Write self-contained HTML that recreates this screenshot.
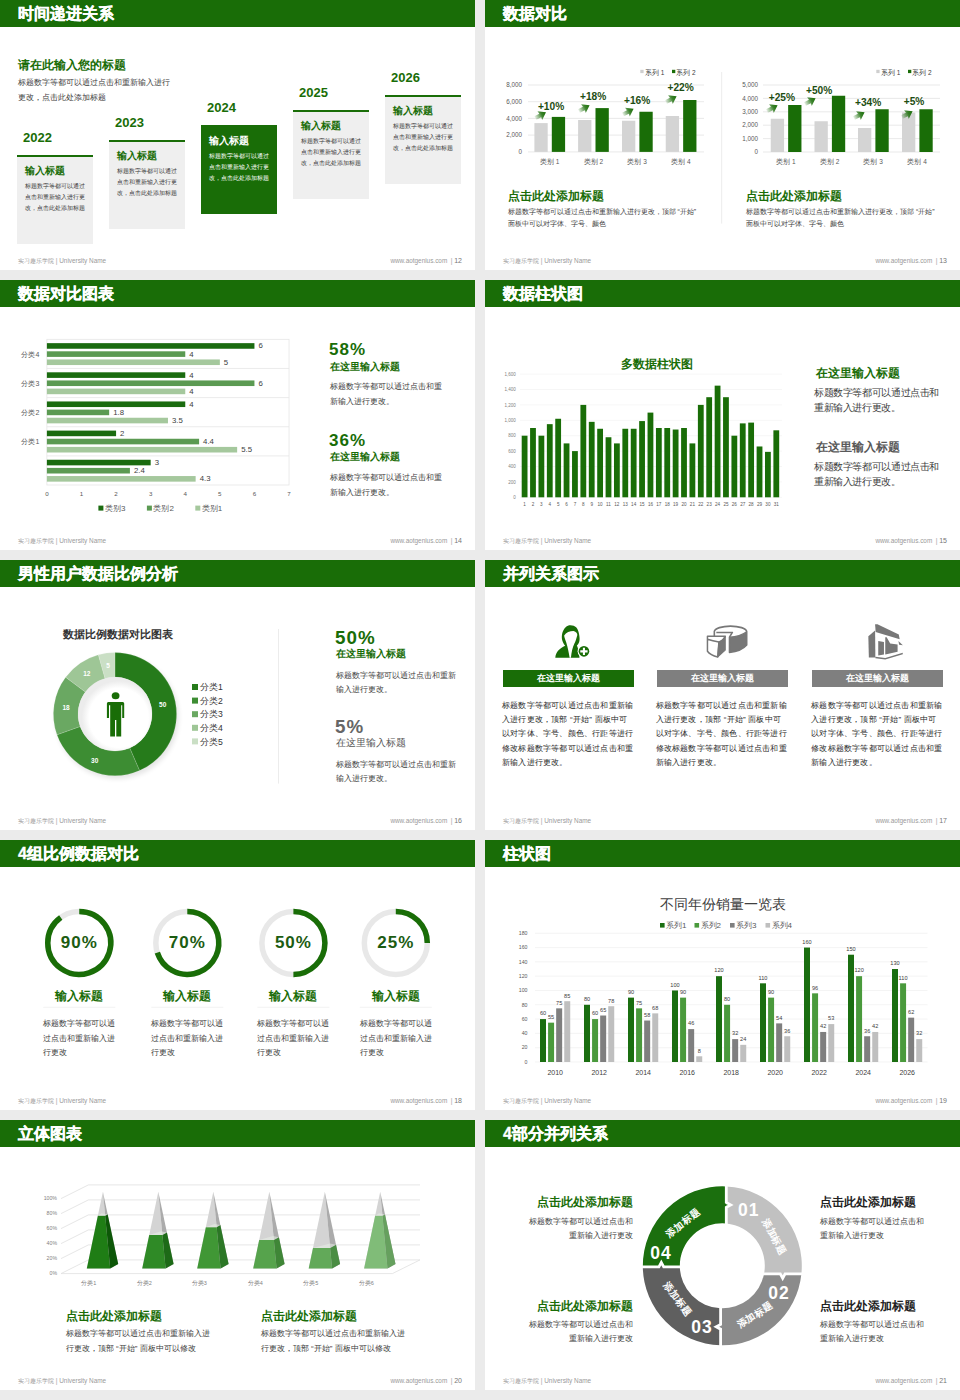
<!DOCTYPE html>
<html><head><meta charset="utf-8">
<style>
*{margin:0;padding:0;box-sizing:border-box}
html,body{width:960px;height:1400px;overflow:hidden;background:#ebebeb;font-family:"Liberation Sans",sans-serif}
.s{position:absolute;width:475px;height:270px;background:#fff;overflow:hidden}
.hd{position:absolute;left:0;top:0;width:475px;height:27px;background:#196d07}
.hd span{position:absolute;left:18px;top:4px;font-size:16px;line-height:20px;font-weight:bold;color:#fff;white-space:nowrap;-webkit-text-stroke:0.3px #fff}
.fl{position:absolute;left:18px;top:257px;font-size:6.4px;line-height:8px;color:#9a9a9a;white-space:nowrap}
.fr{position:absolute;right:13px;top:257px;font-size:6.4px;line-height:8px;color:#9a9a9a;white-space:nowrap}
.fr b{font-weight:normal;font-size:7px;color:#777}
.a{position:absolute;white-space:nowrap}
svg{position:absolute;left:0;top:0}
.pc{font-size:17px;line-height:20px;font-weight:bold;letter-spacing:1px}
.yr{font-size:13px;line-height:16px;font-weight:bold;color:#196d07}
.bt{font-size:10px;line-height:14px;font-weight:bold}
.bd{font-size:6px;line-height:11px}

</style></head><body>

<!-- S1 -->
<div class="s" style="left:0;top:0">
<div class="hd"><span>时间递进关系</span></div>
<div class="a" style="left:18px;top:57px;font-size:12px;line-height:16px;font-weight:bold;color:#196d07">请在此输入您的标题</div>
<div class="a" style="left:18px;top:75px;font-size:8px;line-height:15px;color:#3c3c3c">标题数字等都可以通过点击和重新输入进行<br>更改，点击此处添加标题</div>
<div class="a" style="left:17px;top:154.5px;width:76px;height:89.5px;background:#efefef;border-top:2px solid #196d07"></div><div class="a yr" style="left:23px;top:129.5px">2022</div><div class="a bt" style="left:25px;top:163.5px;color:#196d07">输入标题</div><div class="a bd" style="left:25px;top:180.8px;color:#3a3a3a">标题数字等都可以通过<br>点击和重新输入进行更<br>改，点击此处添加标题</div>
<div class="a" style="left:109px;top:139.5px;width:76px;height:89.5px;background:#efefef;border-top:2px solid #196d07"></div><div class="a yr" style="left:115px;top:114.5px">2023</div><div class="a bt" style="left:117px;top:148.5px;color:#196d07">输入标题</div><div class="a bd" style="left:117px;top:165.8px;color:#3a3a3a">标题数字等都可以通过<br>点击和重新输入进行更<br>改，点击此处添加标题</div>
<div class="a" style="left:201px;top:124.5px;width:76px;height:89.5px;background:#196d07"></div><div class="a yr" style="left:207px;top:99.5px">2024</div><div class="a bt" style="left:209px;top:133.5px;color:#fff">输入标题</div><div class="a bd" style="left:209px;top:150.8px;color:#fff">标题数字等都可以通过<br>点击和重新输入进行更<br>改，点击此处添加标题</div>
<div class="a" style="left:293px;top:109.5px;width:76px;height:89.5px;background:#efefef;border-top:2px solid #196d07"></div><div class="a yr" style="left:299px;top:84.5px">2025</div><div class="a bt" style="left:301px;top:118.5px;color:#196d07">输入标题</div><div class="a bd" style="left:301px;top:135.8px;color:#3a3a3a">标题数字等都可以通过<br>点击和重新输入进行更<br>改，点击此处添加标题</div>
<div class="a" style="left:385px;top:94.5px;width:76px;height:89.5px;background:#efefef;border-top:2px solid #196d07"></div><div class="a yr" style="left:391px;top:69.5px">2026</div><div class="a bt" style="left:393px;top:103.5px;color:#196d07">输入标题</div><div class="a bd" style="left:393px;top:120.8px;color:#3a3a3a">标题数字等都可以通过<br>点击和重新输入进行更<br>改，点击此处添加标题</div>
<div class="fl">实习趣乐学院 | University Name</div>
<div class="fr">www.aotgenius.com &nbsp;| <b>12</b></div>
</div>

<!-- S2 -->
<div class="s" style="left:485px;top:0">
<div class="hd"><span>数据对比</span></div>
<svg width="475" height="270" viewBox="0 0 475 270" font-family="Liberation Sans, sans-serif"><defs><linearGradient id="ag" x1="0" y1="0" x2="1" y2="0"><stop offset="0" stop-color="#196d07" stop-opacity="0.1"/><stop offset="0.6" stop-color="#196d07" stop-opacity="0.85"/><stop offset="1" stop-color="#196d07"/></linearGradient></defs><rect x="155.3" y="69.8" width="3.3" height="3.3" fill="#cfcfcf"/><text x="160.0" y="74.6" font-size="6.5" fill="#404040">系列 1</text><rect x="187.0" y="69.8" width="3.3" height="3.3" fill="#196d07"/><text x="191.3" y="74.6" font-size="6.5" fill="#404040">系列 2</text><rect x="391.3" y="69.8" width="3.3" height="3.3" fill="#cfcfcf"/><text x="396.0" y="74.6" font-size="6.5" fill="#404040">系列 1</text><rect x="423.0" y="69.8" width="3.3" height="3.3" fill="#196d07"/><text x="427.3" y="74.6" font-size="6.5" fill="#404040">系列 2</text><line x1="43" y1="85" x2="219" y2="85" stroke="#e3e3e3" stroke-width="0.8"/>
<text x="37" y="87.2" font-size="6.3" fill="#595959" text-anchor="end">8,000</text>
<line x1="43" y1="101.7" x2="219" y2="101.7" stroke="#e3e3e3" stroke-width="0.8"/>
<text x="37" y="103.9" font-size="6.3" fill="#595959" text-anchor="end">6,000</text>
<line x1="43" y1="118.4" x2="219" y2="118.4" stroke="#e3e3e3" stroke-width="0.8"/>
<text x="37" y="120.60000000000001" font-size="6.3" fill="#595959" text-anchor="end">4,000</text>
<line x1="43" y1="135.1" x2="219" y2="135.1" stroke="#e3e3e3" stroke-width="0.8"/>
<text x="37" y="137.29999999999998" font-size="6.3" fill="#595959" text-anchor="end">2,000</text>
<line x1="43" y1="151.9" x2="219" y2="151.9" stroke="#e3e3e3" stroke-width="0.8"/>
<text x="37" y="154.1" font-size="6.3" fill="#595959" text-anchor="end">0</text>
<rect x="49.4" y="123.1" width="13.3" height="28.80000000000001" fill="#d4d4d4"/>
<rect x="66.8" y="116.9" width="13.3" height="35.0" fill="#196d07"/>
<text x="64.6" y="164.1" font-size="6.5" fill="#595959" text-anchor="middle">类别 1</text>
<rect x="93.1" y="120" width="13.3" height="31.900000000000006" fill="#d4d4d4"/>
<rect x="110.5" y="108.1" width="13.3" height="43.80000000000001" fill="#196d07"/>
<text x="108.3" y="164.1" font-size="6.5" fill="#595959" text-anchor="middle">类别 2</text>
<rect x="137" y="120.75" width="13.3" height="31.150000000000006" fill="#d4d4d4"/>
<rect x="154.4" y="111.75" width="13.3" height="40.150000000000006" fill="#196d07"/>
<text x="152.2" y="164.1" font-size="6.5" fill="#595959" text-anchor="middle">类别 3</text>
<rect x="180.75" y="116" width="13.3" height="35.900000000000006" fill="#d4d4d4"/>
<rect x="198.15" y="100" width="13.3" height="51.900000000000006" fill="#196d07"/>
<text x="195.95" y="164.1" font-size="6.5" fill="#595959" text-anchor="middle">类别 4</text>
<text x="52.9" y="109.6" font-size="10.2" font-weight="bold" fill="#1d4d12">+10%</text>
<g transform="translate(50.4,118.0) rotate(-28)"><polygon points="0,-2 5.5,-2 5,-5 12,0 5,5 5.5,2 0,2" fill="url(#ag)"/></g>
<text x="95" y="100" font-size="10.2" font-weight="bold" fill="#1d4d12">+18%</text>
<g transform="translate(94,111.0) rotate(-28)"><polygon points="0,-2 5.5,-2 5,-5 12,0 5,5 5.5,2 0,2" fill="url(#ag)"/></g>
<text x="139" y="103.6" font-size="10.2" font-weight="bold" fill="#1d4d12">+16%</text>
<g transform="translate(138,114.5) rotate(-28)"><polygon points="0,-2 5.5,-2 5,-5 12,0 5,5 5.5,2 0,2" fill="url(#ag)"/></g>
<text x="182.5" y="91" font-size="10.2" font-weight="bold" fill="#1d4d12">+22%</text>
<g transform="translate(181,102.0) rotate(-28)"><polygon points="0,-2 5.5,-2 5,-5 12,0 5,5 5.5,2 0,2" fill="url(#ag)"/></g><line x1="278" y1="85" x2="455" y2="85" stroke="#e3e3e3" stroke-width="0.8"/>
<text x="273" y="87.2" font-size="6.3" fill="#595959" text-anchor="end">5,000</text>
<line x1="278" y1="98.4" x2="455" y2="98.4" stroke="#e3e3e3" stroke-width="0.8"/>
<text x="273" y="100.60000000000001" font-size="6.3" fill="#595959" text-anchor="end">4,000</text>
<line x1="278" y1="111.8" x2="455" y2="111.8" stroke="#e3e3e3" stroke-width="0.8"/>
<text x="273" y="114.0" font-size="6.3" fill="#595959" text-anchor="end">3,000</text>
<line x1="278" y1="125.2" x2="455" y2="125.2" stroke="#e3e3e3" stroke-width="0.8"/>
<text x="273" y="127.4" font-size="6.3" fill="#595959" text-anchor="end">2,000</text>
<line x1="278" y1="138.6" x2="455" y2="138.6" stroke="#e3e3e3" stroke-width="0.8"/>
<text x="273" y="140.79999999999998" font-size="6.3" fill="#595959" text-anchor="end">1,000</text>
<line x1="278" y1="152" x2="455" y2="152" stroke="#e3e3e3" stroke-width="0.8"/>
<text x="273" y="154.2" font-size="6.3" fill="#595959" text-anchor="end">0</text>
<rect x="285.75" y="118.75" width="13.3" height="33.25" fill="#d4d4d4"/>
<rect x="303.15" y="105" width="13.3" height="47" fill="#196d07"/>
<text x="300.95" y="164.2" font-size="6.5" fill="#595959" text-anchor="middle">类别 1</text>
<rect x="329.5" y="121.25" width="13.3" height="30.75" fill="#d4d4d4"/>
<rect x="346.9" y="95.75" width="13.3" height="56.25" fill="#196d07"/>
<text x="344.7" y="164.2" font-size="6.5" fill="#595959" text-anchor="middle">类别 2</text>
<rect x="373" y="128" width="13.3" height="24" fill="#d4d4d4"/>
<rect x="390.4" y="109.25" width="13.3" height="42.75" fill="#196d07"/>
<text x="388.2" y="164.2" font-size="6.5" fill="#595959" text-anchor="middle">类别 3</text>
<rect x="417" y="112.5" width="13.3" height="39.5" fill="#d4d4d4"/>
<rect x="434.4" y="109.25" width="13.3" height="42.75" fill="#196d07"/>
<text x="432.2" y="164.2" font-size="6.5" fill="#595959" text-anchor="middle">类别 4</text>
<text x="283.75" y="101" font-size="10.2" font-weight="bold" fill="#1d4d12">+25%</text>
<g transform="translate(282,111.0) rotate(-28)"><polygon points="0,-2 5.5,-2 5,-5 12,0 5,5 5.5,2 0,2" fill="url(#ag)"/></g>
<text x="321" y="94" font-size="10.2" font-weight="bold" fill="#1d4d12">+50%</text>
<g transform="translate(320,104.0) rotate(-28)"><polygon points="0,-2 5.5,-2 5,-5 12,0 5,5 5.5,2 0,2" fill="url(#ag)"/></g>
<text x="370" y="105.6" font-size="10.2" font-weight="bold" fill="#1d4d12">+34%</text>
<g transform="translate(369,118.0) rotate(-28)"><polygon points="0,-2 5.5,-2 5,-5 12,0 5,5 5.5,2 0,2" fill="url(#ag)"/></g>
<text x="418.75" y="104.8" font-size="10.2" font-weight="bold" fill="#1d4d12">+5%</text>
<g transform="translate(417,117.0) rotate(-28)"><polygon points="0,-2 5.5,-2 5,-5 12,0 5,5 5.5,2 0,2" fill="url(#ag)"/></g><line x1="236.7" y1="72" x2="236.7" y2="223.6" stroke="#ececec" stroke-width="1"/></svg>
<div class="a" style="left:22.5px;top:187.5px;font-size:12px;line-height:16px;font-weight:bold;color:#196d07">点击此处添加标题</div><div class="a" style="left:22.5px;top:205.5px;font-size:7px;line-height:12.5px;color:#3c3c3c">标题数字等都可以通过点击和重新输入进行更改，顶部 “开始”<br>面板中可以对字体、字号、颜色</div><div class="a" style="left:261px;top:187.5px;font-size:12px;line-height:16px;font-weight:bold;color:#196d07">点击此处添加标题</div><div class="a" style="left:261px;top:205.5px;font-size:7px;line-height:12.5px;color:#3c3c3c">标题数字等都可以通过点击和重新输入进行更改，顶部 “开始”<br>面板中可以对字体、字号、颜色</div>
<div class="fl">实习趣乐学院 | University Name</div>
<div class="fr">www.aotgenius.com &nbsp;| <b>13</b></div>
</div>

<!-- S3 -->
<div class="s" style="left:0;top:280px">
<div class="hd"><span>数据对比图表</span></div>
<svg width="475" height="270" font-family="Liberation Sans, sans-serif"><rect x="46.9" y="59.3" width="242.13000000000002" height="145.7" fill="none" stroke="#e6e6e6" stroke-width="0.8"/><line x1="46.9" y1="88.44999999999999" x2="289.03000000000003" y2="88.44999999999999" stroke="#e6e6e6" stroke-width="0.8"/><line x1="46.9" y1="117.6" x2="289.03000000000003" y2="117.6" stroke="#e6e6e6" stroke-width="0.8"/><line x1="46.9" y1="146.75" x2="289.03000000000003" y2="146.75" stroke="#e6e6e6" stroke-width="0.8"/><line x1="46.9" y1="175.89999999999998" x2="289.03000000000003" y2="175.89999999999998" stroke="#e6e6e6" stroke-width="0.8"/><rect x="46.9" y="63.15" width="207.54000000000002" height="5.6" fill="#1a6b0f"/><text x="258.44000000000005" y="68.45" font-size="7.8" fill="#404040">6</text><rect x="46.9" y="71.3" width="138.36" height="5.6" fill="#5b9a52"/><text x="189.26000000000002" y="76.6" font-size="7.8" fill="#404040">4</text><rect x="46.9" y="79.45" width="172.95000000000002" height="5.6" fill="#a5c89d"/><text x="223.85000000000002" y="84.75" font-size="7.8" fill="#404040">5</text><rect x="46.9" y="92.29999999999998" width="138.36" height="5.6" fill="#1a6b0f"/><text x="189.26000000000002" y="97.59999999999998" font-size="7.8" fill="#404040">4</text><rect x="46.9" y="100.44999999999999" width="207.54000000000002" height="5.6" fill="#5b9a52"/><text x="258.44000000000005" y="105.74999999999999" font-size="7.8" fill="#404040">6</text><rect x="46.9" y="108.59999999999998" width="138.36" height="5.6" fill="#a5c89d"/><text x="189.26000000000002" y="113.89999999999998" font-size="7.8" fill="#404040">4</text><rect x="46.9" y="121.44999999999999" width="138.36" height="5.6" fill="#1a6b0f"/><text x="189.26000000000002" y="126.74999999999999" font-size="7.8" fill="#404040">4</text><rect x="46.9" y="129.6" width="62.26200000000001" height="5.6" fill="#5b9a52"/><text x="113.162" y="134.9" font-size="7.8" fill="#404040">1.8</text><rect x="46.9" y="137.75" width="121.06500000000001" height="5.6" fill="#a5c89d"/><text x="171.965" y="143.05" font-size="7.8" fill="#404040">3.5</text><rect x="46.9" y="150.6" width="69.18" height="5.6" fill="#1a6b0f"/><text x="120.08000000000001" y="155.9" font-size="7.8" fill="#404040">2</text><rect x="46.9" y="158.75" width="152.19600000000003" height="5.6" fill="#5b9a52"/><text x="203.09600000000003" y="164.05" font-size="7.8" fill="#404040">4.4</text><rect x="46.9" y="166.9" width="190.245" height="5.6" fill="#a5c89d"/><text x="241.145" y="172.20000000000002" font-size="7.8" fill="#404040">5.5</text><rect x="46.9" y="179.74999999999997" width="103.77000000000001" height="5.6" fill="#1a6b0f"/><text x="154.67000000000002" y="185.04999999999998" font-size="7.8" fill="#404040">3</text><rect x="46.9" y="187.89999999999998" width="83.016" height="5.6" fill="#5b9a52"/><text x="133.916" y="193.2" font-size="7.8" fill="#404040">2.4</text><rect x="46.9" y="196.04999999999998" width="148.737" height="5.6" fill="#a5c89d"/><text x="199.637" y="201.35" font-size="7.8" fill="#404040">4.3</text><text x="39.4" y="76.69999999999999" font-size="7" fill="#595959" text-anchor="end">分类4</text><text x="39.4" y="105.84999999999998" font-size="7" fill="#595959" text-anchor="end">分类3</text><text x="39.4" y="135.0" font-size="7" fill="#595959" text-anchor="end">分类2</text><text x="39.4" y="164.15" font-size="7" fill="#595959" text-anchor="end">分类1</text><text x="46.9" y="215.5" font-size="6.2" fill="#595959" text-anchor="middle">0</text><text x="81.49000000000001" y="215.5" font-size="6.2" fill="#595959" text-anchor="middle">1</text><text x="116.08000000000001" y="215.5" font-size="6.2" fill="#595959" text-anchor="middle">2</text><text x="150.67000000000002" y="215.5" font-size="6.2" fill="#595959" text-anchor="middle">3</text><text x="185.26000000000002" y="215.5" font-size="6.2" fill="#595959" text-anchor="middle">4</text><text x="219.85000000000002" y="215.5" font-size="6.2" fill="#595959" text-anchor="middle">5</text><text x="254.44000000000003" y="215.5" font-size="6.2" fill="#595959" text-anchor="middle">6</text><text x="289.03000000000003" y="215.5" font-size="6.2" fill="#595959" text-anchor="middle">7</text><rect x="98.4" y="225.6" width="5" height="5" fill="#1a6b0f"/><text x="104.9" y="230.8" font-size="8" fill="#595959">类别3</text><rect x="146.9" y="225.6" width="5" height="5" fill="#5b9a52"/><text x="153.4" y="230.8" font-size="8" fill="#595959">类别2</text><rect x="195.3" y="225.6" width="5" height="5" fill="#a5c89d"/><text x="201.8" y="230.8" font-size="8" fill="#595959">类别1</text></svg>
<div class="a pc" style="left:329px;top:60.0px;color:#196d07">58%</div><div class="a" style="left:330px;top:79.5px;font-size:10px;line-height:14px;font-weight:bold;color:#196d07">在这里输入标题</div><div class="a" style="left:330px;top:100.3px;font-size:8px;line-height:14.5px;color:#3a3a3a">标题数字等都可以通过点击和重<br>新输入进行更改。</div><div class="a pc" style="left:329px;top:150.7px;color:#196d07">36%</div><div class="a" style="left:330px;top:170.2px;font-size:10px;line-height:14px;font-weight:bold;color:#196d07">在这里输入标题</div><div class="a" style="left:330px;top:191.0px;font-size:8px;line-height:14.5px;color:#3a3a3a">标题数字等都可以通过点击和重<br>新输入进行更改。</div>
<div class="fl">实习趣乐学院 | University Name</div>
<div class="fr">www.aotgenius.com &nbsp;| <b>14</b></div>
</div>

<!-- S4 -->
<div class="s" style="left:485px;top:280px">
<div class="hd"><span>数据柱状图</span></div>
<svg width="475" height="270" font-family="Liberation Sans, sans-serif"><line x1="35" y1="217.3" x2="297" y2="217.3" stroke="#f0f0f0" stroke-width="0.6"/><text x="30.7" y="218.9" font-size="4.5" fill="#7f7f7f" text-anchor="end">0</text><line x1="35" y1="201.9" x2="297" y2="201.9" stroke="#f0f0f0" stroke-width="0.6"/><text x="30.7" y="203.5" font-size="4.5" fill="#7f7f7f" text-anchor="end">200</text><line x1="35" y1="186.5" x2="297" y2="186.5" stroke="#f0f0f0" stroke-width="0.6"/><text x="30.7" y="188.1" font-size="4.5" fill="#7f7f7f" text-anchor="end">400</text><line x1="35" y1="171.10000000000002" x2="297" y2="171.10000000000002" stroke="#f0f0f0" stroke-width="0.6"/><text x="30.7" y="172.70000000000002" font-size="4.5" fill="#7f7f7f" text-anchor="end">600</text><line x1="35" y1="155.70000000000002" x2="297" y2="155.70000000000002" stroke="#f0f0f0" stroke-width="0.6"/><text x="30.7" y="157.3" font-size="4.5" fill="#7f7f7f" text-anchor="end">800</text><line x1="35" y1="140.3" x2="297" y2="140.3" stroke="#f0f0f0" stroke-width="0.6"/><text x="30.7" y="141.9" font-size="4.5" fill="#7f7f7f" text-anchor="end">1,000</text><line x1="35" y1="124.9" x2="297" y2="124.9" stroke="#f0f0f0" stroke-width="0.6"/><text x="30.7" y="126.5" font-size="4.5" fill="#7f7f7f" text-anchor="end">1,200</text><line x1="35" y1="109.50000000000001" x2="297" y2="109.50000000000001" stroke="#f0f0f0" stroke-width="0.6"/><text x="30.7" y="111.10000000000001" font-size="4.5" fill="#7f7f7f" text-anchor="end">1,400</text><line x1="35" y1="94.10000000000001" x2="297" y2="94.10000000000001" stroke="#f0f0f0" stroke-width="0.6"/><text x="30.7" y="95.7" font-size="4.5" fill="#7f7f7f" text-anchor="end">1,600</text><rect x="36.70" y="155.70" width="5.8" height="61.60" fill="#196d07"/><text x="39.60" y="226" font-size="4.6" fill="#595959" text-anchor="middle">1</text><rect x="45.09" y="148.00" width="5.8" height="69.30" fill="#196d07"/><text x="47.99" y="226" font-size="4.6" fill="#595959" text-anchor="middle">2</text><rect x="53.48" y="155.70" width="5.8" height="61.60" fill="#196d07"/><text x="56.38" y="226" font-size="4.6" fill="#595959" text-anchor="middle">3</text><rect x="61.87" y="144.15" width="5.8" height="73.15" fill="#196d07"/><text x="64.77" y="226" font-size="4.6" fill="#595959" text-anchor="middle">4</text><rect x="70.26" y="138.76" width="5.8" height="78.54" fill="#196d07"/><text x="73.16" y="226" font-size="4.6" fill="#595959" text-anchor="middle">5</text><rect x="78.65" y="163.40" width="5.8" height="53.90" fill="#196d07"/><text x="81.55" y="226" font-size="4.6" fill="#595959" text-anchor="middle">6</text><rect x="87.04" y="171.10" width="5.8" height="46.20" fill="#196d07"/><text x="89.94" y="226" font-size="4.6" fill="#595959" text-anchor="middle">7</text><rect x="95.43" y="124.90" width="5.8" height="92.40" fill="#196d07"/><text x="98.33" y="226" font-size="4.6" fill="#595959" text-anchor="middle">8</text><rect x="103.82" y="141.84" width="5.8" height="75.46" fill="#196d07"/><text x="106.72" y="226" font-size="4.6" fill="#595959" text-anchor="middle">9</text><rect x="112.21" y="148.77" width="5.8" height="68.53" fill="#196d07"/><text x="115.11" y="226" font-size="4.6" fill="#595959" text-anchor="middle">10</text><rect x="120.60" y="157.24" width="5.8" height="60.06" fill="#196d07"/><text x="123.50" y="226" font-size="4.6" fill="#595959" text-anchor="middle">11</text><rect x="128.99" y="163.40" width="5.8" height="53.90" fill="#196d07"/><text x="131.89" y="226" font-size="4.6" fill="#595959" text-anchor="middle">12</text><rect x="137.38" y="148.77" width="5.8" height="68.53" fill="#196d07"/><text x="140.28" y="226" font-size="4.6" fill="#595959" text-anchor="middle">13</text><rect x="145.77" y="148.77" width="5.8" height="68.53" fill="#196d07"/><text x="148.67" y="226" font-size="4.6" fill="#595959" text-anchor="middle">14</text><rect x="154.16" y="141.07" width="5.8" height="76.23" fill="#196d07"/><text x="157.06" y="226" font-size="4.6" fill="#595959" text-anchor="middle">15</text><rect x="162.55" y="132.60" width="5.8" height="84.70" fill="#196d07"/><text x="165.45" y="226" font-size="4.6" fill="#595959" text-anchor="middle">16</text><rect x="170.94" y="148.00" width="5.8" height="69.30" fill="#196d07"/><text x="173.84" y="226" font-size="4.6" fill="#595959" text-anchor="middle">17</text><rect x="179.33" y="148.00" width="5.8" height="69.30" fill="#196d07"/><text x="182.23" y="226" font-size="4.6" fill="#595959" text-anchor="middle">18</text><rect x="187.72" y="149.54" width="5.8" height="67.76" fill="#196d07"/><text x="190.62" y="226" font-size="4.6" fill="#595959" text-anchor="middle">19</text><rect x="196.11" y="148.00" width="5.8" height="69.30" fill="#196d07"/><text x="199.01" y="226" font-size="4.6" fill="#595959" text-anchor="middle">20</text><rect x="204.50" y="163.40" width="5.8" height="53.90" fill="#196d07"/><text x="207.40" y="226" font-size="4.6" fill="#595959" text-anchor="middle">21</text><rect x="212.89" y="124.90" width="5.8" height="92.40" fill="#196d07"/><text x="215.79" y="226" font-size="4.6" fill="#595959" text-anchor="middle">22</text><rect x="221.28" y="117.20" width="5.8" height="100.10" fill="#196d07"/><text x="224.18" y="226" font-size="4.6" fill="#595959" text-anchor="middle">23</text><rect x="229.67" y="105.65" width="5.8" height="111.65" fill="#196d07"/><text x="232.57" y="226" font-size="4.6" fill="#595959" text-anchor="middle">24</text><rect x="238.06" y="117.20" width="5.8" height="100.10" fill="#196d07"/><text x="240.96" y="226" font-size="4.6" fill="#595959" text-anchor="middle">25</text><rect x="246.45" y="155.70" width="5.8" height="61.60" fill="#196d07"/><text x="249.35" y="226" font-size="4.6" fill="#595959" text-anchor="middle">26</text><rect x="254.84" y="143.38" width="5.8" height="73.92" fill="#196d07"/><text x="257.74" y="226" font-size="4.6" fill="#595959" text-anchor="middle">27</text><rect x="263.23" y="142.61" width="5.8" height="74.69" fill="#196d07"/><text x="266.13" y="226" font-size="4.6" fill="#595959" text-anchor="middle">28</text><rect x="271.62" y="166.48" width="5.8" height="50.82" fill="#196d07"/><text x="274.52" y="226" font-size="4.6" fill="#595959" text-anchor="middle">29</text><rect x="280.01" y="171.87" width="5.8" height="45.43" fill="#196d07"/><text x="282.91" y="226" font-size="4.6" fill="#595959" text-anchor="middle">30</text><rect x="288.40" y="150.31" width="5.8" height="66.99" fill="#196d07"/><text x="291.30" y="226" font-size="4.6" fill="#595959" text-anchor="middle">31</text></svg>
<div class="a" style="left:171.7px;top:76px;transform:translateX(-50%);font-size:11.7px;line-height:16px;font-weight:bold;color:#196d07">多数据柱状图</div><div class="a" style="left:331px;top:84.5px;font-size:11.8px;line-height:17px;font-weight:bold;color:#196d07">在这里输入标题</div><div class="a" style="left:329px;top:105px;font-size:10px;letter-spacing:-0.38px;line-height:15.1px;color:#3c3c3c">标题数字等都可以通过点击和<br>重新输入进行更改。</div><div class="a" style="left:331px;top:159.0px;font-size:11.8px;line-height:17px;font-weight:bold;color:#595959">在这里输入标题</div><div class="a" style="left:329px;top:178.5px;font-size:10px;letter-spacing:-0.38px;line-height:15.1px;color:#3c3c3c">标题数字等都可以通过点击和<br>重新输入进行更改。</div>
<div class="fl">实习趣乐学院 | University Name</div>
<div class="fr">www.aotgenius.com &nbsp;| <b>15</b></div>
</div>

<!-- S5 -->
<div class="s" style="left:0;top:560px">
<div class="hd"><span>男性用户数据比例分析</span></div>
<svg width="475" height="270" font-family="Liberation Sans, sans-serif"><defs><filter id="sh" x="-20%" y="-20%" width="140%" height="140%"><feGaussianBlur stdDeviation="2.5"/></filter></defs><circle cx="117" cy="157.1" r="61.6" fill="#000" opacity="0.10" filter="url(#sh)"/><path d="M115.00,92.50 A61.6,61.6 0 0 1 139.54,210.60 L129.74,188.04 A37,37 0 0 0 115.00,117.10 Z" fill="#267b1b" stroke="#fff" stroke-opacity="0.25" stroke-width="0.6"/><path d="M139.54,210.60 A61.6,61.6 0 0 1 56.96,174.73 L80.14,166.49 A37,37 0 0 0 129.74,188.04 Z" fill="#3d8d33" stroke="#fff" stroke-opacity="0.25" stroke-width="0.6"/><path d="M56.96,174.73 A61.6,61.6 0 0 1 65.66,117.22 L85.37,131.95 A37,37 0 0 0 80.14,166.49 Z" fill="#6aa862" stroke="#fff" stroke-opacity="0.25" stroke-width="0.6"/><path d="M65.66,117.22 A61.6,61.6 0 0 1 98.38,94.78 L105.02,118.47 A37,37 0 0 0 85.37,131.95 Z" fill="#9ec696" stroke="#fff" stroke-opacity="0.25" stroke-width="0.6"/><path d="M98.38,94.78 A61.6,61.6 0 0 1 115.00,92.50 L115.00,117.10 A37,37 0 0 0 105.02,118.47 Z" fill="#cadfc5" stroke="#fff" stroke-opacity="0.25" stroke-width="0.6"/><radialGradient id="ig" cx="0.55" cy="0.55" r="0.5"><stop offset="0.8" stop-color="#fff"/><stop offset="1" stop-color="#ececec"/></radialGradient><circle cx="115" cy="154.1" r="37" fill="url(#ig)"/><text x="162.7" y="146.9" font-size="6.5" font-weight="bold" fill="#fff" text-anchor="middle">50</text><text x="94.7" y="203.10000000000002" font-size="6.5" font-weight="bold" fill="#fff" text-anchor="middle">30</text><text x="66" y="149.9" font-size="6.5" font-weight="bold" fill="#fff" text-anchor="middle">18</text><text x="86.8" y="116.0" font-size="6.5" font-weight="bold" fill="#fff" text-anchor="middle">12</text><text x="108" y="107.6" font-size="6.5" font-weight="bold" fill="#fff" text-anchor="middle">5</text><g fill="#196d07"><ellipse cx="115.6" cy="135.8" rx="3.9" ry="3.5"/><path d="M108.3,141.9 L122.8,141.9 Q124.2,141.9 124.2,143.4 L124.2,158.1 L122.2,158.1 L122.2,145.3 L121.2,145.3 L121.2,176.4 L116.3,176.4 L116.3,160 L115,160 L115,176.4 L110.2,176.4 L110.2,145.3 L109,145.3 L109,158.1 L106.9,158.1 L106.9,143.4 Q106.9,141.9 108.3,141.9 Z"/></g><rect x="192" y="124.0" width="6" height="6" fill="#267b1b"/><text x="200" y="130.1" font-size="8.6" fill="#333">分类1</text><rect x="192" y="137.6" width="6" height="6" fill="#3d8d33"/><text x="200" y="143.7" font-size="8.6" fill="#333">分类2</text><rect x="192" y="151.2" width="6" height="6" fill="#6aa862"/><text x="200" y="157.29999999999998" font-size="8.6" fill="#333">分类3</text><rect x="192" y="164.8" width="6" height="6" fill="#9ec696"/><text x="200" y="170.9" font-size="8.6" fill="#333">分类4</text><rect x="192" y="178.4" width="6" height="6" fill="#cadfc5"/><text x="200" y="184.5" font-size="8.6" fill="#333">分类5</text><line x1="278.5" y1="69" x2="278.5" y2="223.6" stroke="#ececec" stroke-width="1"/></svg>
<div class="a" style="left:63px;top:66px;font-size:11px;line-height:16px;font-weight:bold;color:#333">数据比例数据对比图表</div><div class="a pc" style="left:335px;top:67.5px;font-size:18.8px;color:#196d07">50%</div><div class="a" style="left:336px;top:86.69999999999999px;font-size:9.8px;line-height:14px;font-weight:bold;color:#196d07">在这里输入标题</div><div class="a" style="left:336px;top:108.6px;font-size:8px;line-height:13.9px;color:#3c3c3c">标题数字等都可以通过点击和重新<br>输入进行更改。</div><div class="a pc" style="left:335px;top:156.59999999999997px;font-size:18.8px;color:#666">5%</div><div class="a" style="left:336px;top:175.79999999999998px;font-size:10px;line-height:14px;color:#555">在这里输入标题</div><div class="a" style="left:336px;top:197.7px;font-size:8px;line-height:13.9px;color:#3c3c3c">标题数字等都可以通过点击和重新<br>输入进行更改。</div>
<div class="fl">实习趣乐学院 | University Name</div>
<div class="fr">www.aotgenius.com &nbsp;| <b>16</b></div>
</div>

<!-- S6 -->
<div class="s" style="left:485px;top:560px">
<div class="hd"><span>并列关系图示</span></div>
<svg width="475" height="270" font-family="Liberation Sans, sans-serif"><svg x="63" y="58" width="50" height="46" viewBox="0 0 960 883"><path fill="#196d07" d="M140,765 C150,650 220,590 330,535 C 275,470 250,390 275,290 C 305,190 365,140 430,140 C 525,140 575,195 595,300 C 615,400 615,470 555,530 C 575,580 595,640 605,765 Z"/><path fill="#fff" d="M310,335 C 345,275 420,250 490,250 C 540,265 570,300 562,330 C 545,400 525,455 505,495 C 470,565 452,660 440,765 L 415,765 C 400,660 375,550 352,475 C 335,420 312,375 310,335 Z"/><circle cx="690" cy="640" r="122" fill="#fff"/><circle cx="690" cy="640" r="102" fill="#196d07"/><path fill="#fff" d="M670,570 H710 V620 H760 V660 H710 V710 H670 V660 H620 V620 H670 Z"/></svg><svg x="215" y="58" width="55" height="46" viewBox="0 0 960 803"><path fill="#777" d="M515,335 Q700,325 815,240 L815,470 Q720,580 515,600 Z"/><path fill="none" stroke="#777" stroke-width="28" stroke-linejoin="round" d="M250,320 L250,235 A283,100 0 0 1 815,235 L815,470 Q720,580 515,600 L515,335 L565,252 L285,252"/><path fill="none" stroke="#777" stroke-width="24" d="M515,335 Q700,325 815,240"/><path fill="#fff" stroke="#777" stroke-width="26" stroke-linejoin="round" d="M130,320 L440,320 Q400,400 330,420 Q220,400 130,370 Z M130,370 Q220,400 330,420 L310,680 Q180,650 130,580 Z"/><path fill="#777" stroke="#777" stroke-width="20" stroke-linejoin="round" d="M330,420 Q400,400 440,320 L440,560 L310,680 Z"/></svg><svg x="375" y="58" width="50" height="46" viewBox="0 0 960 883"><g fill="#777"><polygon points="160,350 290,240 295,760 170,760"/><polygon points="290,120 335,118 745,318 762,410 300,268"/><polygon points="295,745 485,770 820,665 822,695 485,795 295,775"/><polygon points="350,440 460,462 460,700 350,722"/><polygon points="485,368 512,368 580,490 722,510 722,650 485,700"/><polygon points="738,440 822,525 752,512"/></g></svg></svg>
<div class="a" style="left:18px;top:110px;width:131px;height:17px;background:#196d07;color:#fff;font-size:9px;line-height:17px;font-weight:bold;text-align:center">在这里输入标题</div><div class="a" style="left:17.0px;top:139px;font-size:8px;letter-spacing:0.2px;line-height:14.2px;color:#262626">标题数字等都可以通过点击和重新输<br>入进行更改，顶部 “开始” 面板中可<br>以对字体、字号、颜色、行距等进行<br>修改标题数字等都可以通过点击和重<br>新输入进行更改。</div><div class="a" style="left:171.7px;top:110px;width:131px;height:17px;background:#7f7f7f;color:#fff;font-size:9px;line-height:17px;font-weight:bold;text-align:center">在这里输入标题</div><div class="a" style="left:170.7px;top:139px;font-size:8px;letter-spacing:0.2px;line-height:14.2px;color:#262626">标题数字等都可以通过点击和重新输<br>入进行更改，顶部 “开始” 面板中可<br>以对字体、字号、颜色、行距等进行<br>修改标题数字等都可以通过点击和重<br>新输入进行更改。</div><div class="a" style="left:327.3px;top:110px;width:131px;height:17px;background:#7f7f7f;color:#fff;font-size:9px;line-height:17px;font-weight:bold;text-align:center">在这里输入标题</div><div class="a" style="left:326.3px;top:139px;font-size:8px;letter-spacing:0.2px;line-height:14.2px;color:#262626">标题数字等都可以通过点击和重新输<br>入进行更改，顶部 “开始” 面板中可<br>以对字体、字号、颜色、行距等进行<br>修改标题数字等都可以通过点击和重<br>新输入进行更改。</div>
<div class="fl">实习趣乐学院 | University Name</div>
<div class="fr">www.aotgenius.com &nbsp;| <b>17</b></div>
</div>

<!-- S7 -->
<div class="s" style="left:0;top:840px">
<div class="hd"><span>4组比例数据对比</span></div>
<svg width="475" height="270" font-family="Liberation Sans, sans-serif"><circle cx="79.25" cy="102.9" r="31.5" fill="none" stroke="#e8e8e8" stroke-width="5.5"/><path d="M79.25,71.4 A31.5,31.5 0 1 1 60.73,77.42" fill="none" stroke="#196d07" stroke-width="5.5"/><line x1="43.25" y1="167.3" x2="115.25" y2="167.3" stroke="#f0f0f0" stroke-width="0.8"/><circle cx="187.3" cy="102.9" r="31.5" fill="none" stroke="#e8e8e8" stroke-width="5.5"/><path d="M187.3,71.4 A31.5,31.5 0 1 1 157.34,112.63" fill="none" stroke="#196d07" stroke-width="5.5"/><line x1="151.3" y1="167.3" x2="223.3" y2="167.3" stroke="#f0f0f0" stroke-width="0.8"/><circle cx="293.4" cy="102.9" r="31.5" fill="none" stroke="#e8e8e8" stroke-width="5.5"/><path d="M293.4,71.4 A31.5,31.5 0 0 1 293.40,134.40" fill="none" stroke="#196d07" stroke-width="5.5"/><line x1="257.4" y1="167.3" x2="329.4" y2="167.3" stroke="#f0f0f0" stroke-width="0.8"/><circle cx="395.8" cy="102.9" r="31.5" fill="none" stroke="#e8e8e8" stroke-width="5.5"/><path d="M395.8,71.4 A31.5,31.5 0 0 1 427.30,102.90" fill="none" stroke="#196d07" stroke-width="5.5"/><line x1="359.8" y1="167.3" x2="431.8" y2="167.3" stroke="#f0f0f0" stroke-width="0.8"/></svg>
<div class="a pc" style="left:39.25px;width:80px;text-align:center;top:92.5px;font-size:17px;color:#1c5c12">90%</div><div class="a" style="left:39.25px;width:80px;text-align:center;top:146.5px;font-size:11.7px;line-height:17px;font-weight:bold;color:#196d07">输入标题</div><div class="a" style="left:43px;top:177.3px;font-size:8px;line-height:14.25px;color:#3a3a3a">标题数字等都可以通<br>过点击和重新输入进<br>行更改</div><div class="a pc" style="left:147.3px;width:80px;text-align:center;top:92.5px;font-size:17px;color:#1c5c12">70%</div><div class="a" style="left:147.3px;width:80px;text-align:center;top:146.5px;font-size:11.7px;line-height:17px;font-weight:bold;color:#196d07">输入标题</div><div class="a" style="left:151px;top:177.3px;font-size:8px;line-height:14.25px;color:#3a3a3a">标题数字等都可以通<br>过点击和重新输入进<br>行更改</div><div class="a pc" style="left:253.39999999999998px;width:80px;text-align:center;top:92.5px;font-size:17px;color:#1c5c12">50%</div><div class="a" style="left:253.39999999999998px;width:80px;text-align:center;top:146.5px;font-size:11.7px;line-height:17px;font-weight:bold;color:#196d07">输入标题</div><div class="a" style="left:257.2px;top:177.3px;font-size:8px;line-height:14.25px;color:#3a3a3a">标题数字等都可以通<br>过点击和重新输入进<br>行更改</div><div class="a pc" style="left:355.8px;width:80px;text-align:center;top:92.5px;font-size:17px;color:#1c5c12">25%</div><div class="a" style="left:355.8px;width:80px;text-align:center;top:146.5px;font-size:11.7px;line-height:17px;font-weight:bold;color:#196d07">输入标题</div><div class="a" style="left:359.6px;top:177.3px;font-size:8px;line-height:14.25px;color:#3a3a3a">标题数字等都可以通<br>过点击和重新输入进<br>行更改</div>
<div class="fl">实习趣乐学院 | University Name</div>
<div class="fr">www.aotgenius.com &nbsp;| <b>18</b></div>
</div>

<!-- S8 -->
<div class="s" style="left:485px;top:840px">
<div class="hd"><span>柱状图</span></div>
<svg width="475" height="270" font-family="Liberation Sans, sans-serif"><line x1="50" y1="222.00" x2="442.5" y2="222.00" stroke="#efefef" stroke-width="0.7"/><text x="42.5" y="223.80" font-size="5.2" fill="#595959" text-anchor="end">0</text><line x1="50" y1="207.69" x2="442.5" y2="207.69" stroke="#efefef" stroke-width="0.7"/><text x="42.5" y="209.49" font-size="5.2" fill="#595959" text-anchor="end">20</text><line x1="50" y1="193.39" x2="442.5" y2="193.39" stroke="#efefef" stroke-width="0.7"/><text x="42.5" y="195.19" font-size="5.2" fill="#595959" text-anchor="end">40</text><line x1="50" y1="179.08" x2="442.5" y2="179.08" stroke="#efefef" stroke-width="0.7"/><text x="42.5" y="180.88" font-size="5.2" fill="#595959" text-anchor="end">60</text><line x1="50" y1="164.78" x2="442.5" y2="164.78" stroke="#efefef" stroke-width="0.7"/><text x="42.5" y="166.58" font-size="5.2" fill="#595959" text-anchor="end">80</text><line x1="50" y1="150.47" x2="442.5" y2="150.47" stroke="#efefef" stroke-width="0.7"/><text x="42.5" y="152.27" font-size="5.2" fill="#595959" text-anchor="end">100</text><line x1="50" y1="136.17" x2="442.5" y2="136.17" stroke="#efefef" stroke-width="0.7"/><text x="42.5" y="137.97" font-size="5.2" fill="#595959" text-anchor="end">120</text><line x1="50" y1="121.86" x2="442.5" y2="121.86" stroke="#efefef" stroke-width="0.7"/><text x="42.5" y="123.66" font-size="5.2" fill="#595959" text-anchor="end">140</text><line x1="50" y1="107.56" x2="442.5" y2="107.56" stroke="#efefef" stroke-width="0.7"/><text x="42.5" y="109.36" font-size="5.2" fill="#595959" text-anchor="end">160</text><line x1="50" y1="93.25" x2="442.5" y2="93.25" stroke="#efefef" stroke-width="0.7"/><text x="42.5" y="95.05" font-size="5.2" fill="#595959" text-anchor="end">180</text><rect x="55.00" y="179.08" width="6" height="42.92" fill="#1a6e10"/><text x="58.00" y="175.38" font-size="5.6" fill="#404040" text-anchor="middle">60</text><rect x="63.08" y="182.66" width="6" height="39.34" fill="#4a9a3c"/><text x="66.08" y="178.96" font-size="5.6" fill="#404040" text-anchor="middle">55</text><rect x="71.16" y="168.35" width="6" height="53.65" fill="#7f7f7f"/><text x="74.16" y="164.65" font-size="5.6" fill="#404040" text-anchor="middle">75</text><rect x="79.24" y="161.20" width="6" height="60.80" fill="#bfbfbf"/><text x="82.24" y="157.50" font-size="5.6" fill="#404040" text-anchor="middle">85</text><text x="70.2" y="235.3" font-size="7" fill="#404040" text-anchor="middle">2010</text><rect x="99.00" y="164.78" width="6" height="57.22" fill="#1a6e10"/><text x="102.00" y="161.08" font-size="5.6" fill="#404040" text-anchor="middle">80</text><rect x="107.08" y="179.08" width="6" height="42.92" fill="#4a9a3c"/><text x="110.08" y="175.38" font-size="5.6" fill="#404040" text-anchor="middle">60</text><rect x="115.16" y="175.51" width="6" height="46.49" fill="#7f7f7f"/><text x="118.16" y="171.81" font-size="5.6" fill="#404040" text-anchor="middle">65</text><rect x="123.24" y="166.21" width="6" height="55.79" fill="#bfbfbf"/><text x="126.24" y="162.51" font-size="5.6" fill="#404040" text-anchor="middle">78</text><text x="114.2" y="235.3" font-size="7" fill="#404040" text-anchor="middle">2012</text><rect x="143.00" y="157.62" width="6" height="64.38" fill="#1a6e10"/><text x="146.00" y="153.93" font-size="5.6" fill="#404040" text-anchor="middle">90</text><rect x="151.08" y="168.35" width="6" height="53.65" fill="#4a9a3c"/><text x="154.08" y="164.65" font-size="5.6" fill="#404040" text-anchor="middle">75</text><rect x="159.16" y="180.51" width="6" height="41.49" fill="#7f7f7f"/><text x="162.16" y="176.81" font-size="5.6" fill="#404040" text-anchor="middle">58</text><rect x="167.24" y="173.36" width="6" height="48.64" fill="#bfbfbf"/><text x="170.24" y="169.66" font-size="5.6" fill="#404040" text-anchor="middle">68</text><text x="158.2" y="235.3" font-size="7" fill="#404040" text-anchor="middle">2014</text><rect x="187.00" y="150.47" width="6" height="71.53" fill="#1a6e10"/><text x="190.00" y="146.77" font-size="5.6" fill="#404040" text-anchor="middle">100</text><rect x="195.08" y="157.62" width="6" height="64.38" fill="#4a9a3c"/><text x="198.08" y="153.93" font-size="5.6" fill="#404040" text-anchor="middle">90</text><rect x="203.16" y="189.10" width="6" height="32.90" fill="#7f7f7f"/><text x="206.16" y="185.40" font-size="5.6" fill="#404040" text-anchor="middle">46</text><rect x="211.24" y="216.28" width="6" height="5.72" fill="#bfbfbf"/><text x="214.24" y="212.58" font-size="5.6" fill="#404040" text-anchor="middle">8</text><text x="202.2" y="235.3" font-size="7" fill="#404040" text-anchor="middle">2016</text><rect x="231.00" y="136.17" width="6" height="85.83" fill="#1a6e10"/><text x="234.00" y="132.47" font-size="5.6" fill="#404040" text-anchor="middle">120</text><rect x="239.08" y="164.78" width="6" height="57.22" fill="#4a9a3c"/><text x="242.08" y="161.08" font-size="5.6" fill="#404040" text-anchor="middle">80</text><rect x="247.16" y="199.11" width="6" height="22.89" fill="#7f7f7f"/><text x="250.16" y="195.41" font-size="5.6" fill="#404040" text-anchor="middle">32</text><rect x="255.24" y="204.83" width="6" height="17.17" fill="#bfbfbf"/><text x="258.24" y="201.13" font-size="5.6" fill="#404040" text-anchor="middle">24</text><text x="246.2" y="235.3" font-size="7" fill="#404040" text-anchor="middle">2018</text><rect x="275.00" y="143.32" width="6" height="78.68" fill="#1a6e10"/><text x="278.00" y="139.62" font-size="5.6" fill="#404040" text-anchor="middle">110</text><rect x="283.08" y="157.62" width="6" height="64.38" fill="#4a9a3c"/><text x="286.08" y="153.93" font-size="5.6" fill="#404040" text-anchor="middle">90</text><rect x="291.16" y="183.38" width="6" height="38.62" fill="#7f7f7f"/><text x="294.16" y="179.68" font-size="5.6" fill="#404040" text-anchor="middle">54</text><rect x="299.24" y="196.25" width="6" height="25.75" fill="#bfbfbf"/><text x="302.24" y="192.55" font-size="5.6" fill="#404040" text-anchor="middle">36</text><text x="290.2" y="235.3" font-size="7" fill="#404040" text-anchor="middle">2020</text><rect x="319.00" y="107.56" width="6" height="114.44" fill="#1a6e10"/><text x="322.00" y="103.86" font-size="5.6" fill="#404040" text-anchor="middle">160</text><rect x="327.08" y="153.33" width="6" height="68.67" fill="#4a9a3c"/><text x="330.08" y="149.63" font-size="5.6" fill="#404040" text-anchor="middle">96</text><rect x="335.16" y="191.96" width="6" height="30.04" fill="#7f7f7f"/><text x="338.16" y="188.26" font-size="5.6" fill="#404040" text-anchor="middle">42</text><rect x="343.24" y="184.09" width="6" height="37.91" fill="#bfbfbf"/><text x="346.24" y="180.39" font-size="5.6" fill="#404040" text-anchor="middle">53</text><text x="334.2" y="235.3" font-size="7" fill="#404040" text-anchor="middle">2022</text><rect x="363.00" y="114.71" width="6" height="107.29" fill="#1a6e10"/><text x="366.00" y="111.01" font-size="5.6" fill="#404040" text-anchor="middle">150</text><rect x="371.08" y="136.17" width="6" height="85.83" fill="#4a9a3c"/><text x="374.08" y="132.47" font-size="5.6" fill="#404040" text-anchor="middle">120</text><rect x="379.16" y="196.25" width="6" height="25.75" fill="#7f7f7f"/><text x="382.16" y="192.55" font-size="5.6" fill="#404040" text-anchor="middle">36</text><rect x="387.24" y="191.96" width="6" height="30.04" fill="#bfbfbf"/><text x="390.24" y="188.26" font-size="5.6" fill="#404040" text-anchor="middle">42</text><text x="378.2" y="235.3" font-size="7" fill="#404040" text-anchor="middle">2024</text><rect x="407.00" y="129.01" width="6" height="92.99" fill="#1a6e10"/><text x="410.00" y="125.31" font-size="5.6" fill="#404040" text-anchor="middle">130</text><rect x="415.08" y="143.32" width="6" height="78.68" fill="#4a9a3c"/><text x="418.08" y="139.62" font-size="5.6" fill="#404040" text-anchor="middle">110</text><rect x="423.16" y="177.65" width="6" height="44.35" fill="#7f7f7f"/><text x="426.16" y="173.95" font-size="5.6" fill="#404040" text-anchor="middle">62</text><rect x="431.24" y="199.11" width="6" height="22.89" fill="#bfbfbf"/><text x="434.24" y="195.41" font-size="5.6" fill="#404040" text-anchor="middle">32</text><text x="422.2" y="235.3" font-size="7" fill="#404040" text-anchor="middle">2026</text><rect x="175" y="83" width="4.6" height="4.6" fill="#1a6e10"/><text x="181" y="88.3" font-size="8" fill="#595959">系列1</text><rect x="209.5" y="83" width="4.6" height="4.6" fill="#4a9a3c"/><text x="215.5" y="88.3" font-size="8" fill="#595959">系列2</text><rect x="245" y="83" width="4.6" height="4.6" fill="#7f7f7f"/><text x="251" y="88.3" font-size="8" fill="#595959">系列3</text><rect x="280.5" y="83" width="4.6" height="4.6" fill="#bfbfbf"/><text x="286.5" y="88.3" font-size="8" fill="#595959">系列4</text></svg>
<div class="a" style="left:238px;top:53.5px;transform:translateX(-50%);font-size:14px;line-height:20px;color:#404040">不同年份销量一览表</div>
<div class="fl">实习趣乐学院 | University Name</div>
<div class="fr">www.aotgenius.com &nbsp;| <b>19</b></div>
</div>

<!-- S9 -->
<div class="s" style="left:0;top:1120px">
<div class="hd"><span>立体图表</span></div>
<svg width="475" height="270" font-family="Liberation Sans, sans-serif"><line x1="61" y1="78.6" x2="88.4" y2="64.9" stroke="#e0e0e0" stroke-width="0.8"/><line x1="88.4" y1="64.9" x2="420" y2="64.9" stroke="#e0e0e0" stroke-width="0.8"/><line x1="61" y1="93.6" x2="88.4" y2="79.9" stroke="#e0e0e0" stroke-width="0.8"/><line x1="88.4" y1="79.9" x2="420" y2="79.9" stroke="#e0e0e0" stroke-width="0.8"/><line x1="61" y1="108.6" x2="88.4" y2="94.9" stroke="#e0e0e0" stroke-width="0.8"/><line x1="88.4" y1="94.9" x2="420" y2="94.9" stroke="#e0e0e0" stroke-width="0.8"/><line x1="61" y1="123.6" x2="88.4" y2="109.9" stroke="#e0e0e0" stroke-width="0.8"/><line x1="88.4" y1="109.9" x2="420" y2="109.9" stroke="#e0e0e0" stroke-width="0.8"/><line x1="61" y1="138.6" x2="88.4" y2="124.9" stroke="#e0e0e0" stroke-width="0.8"/><line x1="88.4" y1="124.9" x2="420" y2="124.9" stroke="#e0e0e0" stroke-width="0.8"/><line x1="61" y1="153.6" x2="88.4" y2="139.9" stroke="#e0e0e0" stroke-width="0.8"/><line x1="88.4" y1="139.9" x2="420" y2="139.9" stroke="#e0e0e0" stroke-width="0.8"/><polyline points="61,153.6 392.4,153.6 420,139.9" fill="none" stroke="#e0e0e0" stroke-width="0.8"/><text x="57" y="80.4" font-size="5.2" fill="#7f7f7f" text-anchor="end">100%</text><text x="57" y="95.4" font-size="5.2" fill="#7f7f7f" text-anchor="end">80%</text><text x="57" y="110.4" font-size="5.2" fill="#7f7f7f" text-anchor="end">60%</text><text x="57" y="125.4" font-size="5.2" fill="#7f7f7f" text-anchor="end">40%</text><text x="57" y="140.4" font-size="5.2" fill="#7f7f7f" text-anchor="end">20%</text><text x="57" y="155.4" font-size="5.2" fill="#7f7f7f" text-anchor="end">0%</text><polygon points="102.9,71.8 86.80,148.5 110.20,148.5" fill="#d4d4d4"/><polygon points="102.9,71.8 110.20,148.5 118.20,144" fill="#ababab"/><polygon points="97.86,95.80 105.18,95.80 110.20,148.5 86.80,148.5" fill="#1f7d15"/><polygon points="105.18,95.80 107.69,94.39 118.20,144 110.20,148.5" fill="#0d5708"/><polygon points="97.86,95.80 105.18,95.80 107.69,94.39 101.69,93.19" fill="#e8efe6" opacity="0.55"/><polygon points="158.3,71.8 142.20,148.5 165.60,148.5" fill="#d4d4d4"/><polygon points="158.3,71.8 165.60,148.5 173.60,144" fill="#ababab"/><polygon points="149.23,115.00 162.41,115.00 165.60,148.5 142.20,148.5" fill="#2f8a26"/><polygon points="162.41,115.00 166.92,112.47 173.60,144 165.60,148.5" fill="#1d6a17"/><polygon points="149.23,115.00 162.41,115.00 166.92,112.47 160.92,111.27" fill="#e8efe6" opacity="0.55"/><polygon points="213.3,71.8 197.20,148.5 220.60,148.5" fill="#d4d4d4"/><polygon points="213.3,71.8 220.60,148.5 228.60,144" fill="#ababab"/><polygon points="205.87,107.20 216.67,107.20 220.60,148.5 197.20,148.5" fill="#409735"/><polygon points="216.67,107.20 220.36,105.12 228.60,144 220.60,148.5" fill="#2c7726"/><polygon points="205.87,107.20 216.67,107.20 220.36,105.12 214.36,103.92" fill="#e8efe6" opacity="0.55"/><polygon points="269.3,71.8 253.20,148.5 276.60,148.5" fill="#d4d4d4"/><polygon points="269.3,71.8 276.60,148.5 284.60,144" fill="#ababab"/><polygon points="259.18,120.00 273.89,120.00 276.60,148.5 253.20,148.5" fill="#56a34c"/><polygon points="273.89,120.00 278.91,117.17 284.60,144 276.60,148.5" fill="#3f8637"/><polygon points="259.18,120.00 273.89,120.00 278.91,117.17 272.91,115.97" fill="#e8efe6" opacity="0.55"/><polygon points="324.8,71.8 308.70,148.5 332.10,148.5" fill="#d4d4d4"/><polygon points="324.8,71.8 332.10,148.5 340.10,144" fill="#ababab"/><polygon points="313.00,128.00 330.15,128.00 332.10,148.5 308.70,148.5" fill="#62a959"/><polygon points="330.15,128.00 336.01,124.70 340.10,144 332.10,148.5" fill="#4a8d43"/><polygon points="313.00,128.00 330.15,128.00 336.01,124.70 330.01,123.50" fill="#e8efe6" opacity="0.55"/><polygon points="380.2,71.8 364.10,148.5 387.50,148.5" fill="#d4d4d4"/><polygon points="380.2,71.8 387.50,148.5 395.50,144" fill="#ababab"/><polygon points="375.16,95.80 382.48,95.80 387.50,148.5 364.10,148.5" fill="#80bc78"/><polygon points="382.48,95.80 384.99,94.39 395.50,144 387.50,148.5" fill="#66a05e"/><polygon points="375.16,95.80 382.48,95.80 384.99,94.39 378.99,93.19" fill="#e8efe6" opacity="0.55"/><text x="88.9" y="164.7" font-size="5.5" fill="#7f7f7f" text-anchor="middle">分类1</text><text x="144.3" y="164.7" font-size="5.5" fill="#7f7f7f" text-anchor="middle">分类2</text><text x="199.3" y="164.7" font-size="5.5" fill="#7f7f7f" text-anchor="middle">分类3</text><text x="255.3" y="164.7" font-size="5.5" fill="#7f7f7f" text-anchor="middle">分类4</text><text x="310.8" y="164.7" font-size="5.5" fill="#7f7f7f" text-anchor="middle">分类5</text><text x="366.2" y="164.7" font-size="5.5" fill="#7f7f7f" text-anchor="middle">分类6</text></svg>
<div class="a" style="left:65.8px;top:187.5px;font-size:11.9px;line-height:16px;font-weight:bold;color:#196d07">点击此处添加标题</div><div class="a" style="left:65.8px;top:207.3px;font-size:8px;line-height:14.5px;color:#3a3a3a">标题数字等都可以通过点击和重新输入进<br>行更改，顶部 “开始” 面板中可以修改</div><div class="a" style="left:260.8px;top:187.5px;font-size:11.9px;line-height:16px;font-weight:bold;color:#196d07">点击此处添加标题</div><div class="a" style="left:260.8px;top:207.3px;font-size:8px;line-height:14.5px;color:#3a3a3a">标题数字等都可以通过点击和重新输入进<br>行更改，顶部 “开始” 面板中可以修改</div>
<div class="fl">实习趣乐学院 | University Name</div>
<div class="fr">www.aotgenius.com &nbsp;| <b>20</b></div>
</div>

<!-- S10 -->
<div class="s" style="left:485px;top:1120px">
<div class="hd"><span>4部分并列关系</span></div>
<svg width="475" height="270" font-family="Liberation Sans, sans-serif"><path d="M241.30,66.40 A79.5,79.5 0 0 1 316.39,153.90 L279.02,153.90 A42.5,42.5 0 0 0 241.30,103.49 Z" fill="#c1c1c1"/><path d="M316.39,153.90 A79.5,79.5 0 0 1 235.60,225.28 L235.60,188.27 A42.5,42.5 0 0 0 279.02,153.90 Z" fill="#8b8b8b"/><path d="M235.60,225.28 A79.5,79.5 0 0 1 157.81,146.80 L194.81,146.80 A42.5,42.5 0 0 0 235.60,188.27 Z" fill="#5f5f5f"/><path d="M157.81,146.80 A79.5,79.5 0 0 1 241.30,66.40 L241.30,103.49 A42.5,42.5 0 0 0 194.81,146.80 Z" fill="#1b6f0e"/><polygon points="241.30,82.54 244.50,84.94 241.30,87.34" fill="#1b6f0e"/><polyline points="241.30,64.40 241.30,82.54 245.70,84.94 241.30,87.34 241.30,105.49" fill="none" stroke="#fff" stroke-width="2.8" stroke-linejoin="miter"/><polygon points="300.10,153.90 297.70,157.10 295.30,153.90" fill="#c1c1c1"/><polyline points="318.39,153.90 300.10,153.90 297.70,158.30 295.30,153.90 277.02,153.90" fill="none" stroke="#fff" stroke-width="2.8" stroke-linejoin="miter"/><polygon points="235.60,209.17 232.40,206.77 235.60,204.37" fill="#8b8b8b"/><polyline points="235.60,227.28 235.60,209.17 231.20,206.77 235.60,204.37 235.60,186.27" fill="none" stroke="#fff" stroke-width="2.8" stroke-linejoin="miter"/><polygon points="173.91,146.80 176.31,143.60 178.71,146.80" fill="#5f5f5f"/><polyline points="155.81,146.80 173.91,146.80 176.31,142.40 178.71,146.80 196.81,146.80" fill="none" stroke="#fff" stroke-width="2.8" stroke-linejoin="miter"/></svg>
<div class="a" style="left:243.3px;width:40px;text-align:center;top:79.75px;font-size:17.5px;line-height:20px;font-weight:bold;letter-spacing:1px;text-indent:1px;color:#fff">01</div><div class="a" style="left:273.6px;width:40px;text-align:center;top:163.4px;font-size:17.5px;line-height:20px;font-weight:bold;letter-spacing:1px;text-indent:1px;color:#fff">02</div><div class="a" style="left:196.5px;width:40px;text-align:center;top:197.1px;font-size:17.5px;line-height:20px;font-weight:bold;letter-spacing:1px;text-indent:1px;color:#fff">03</div><div class="a" style="left:155.4px;width:40px;text-align:center;top:122.80000000000001px;font-size:17.5px;line-height:20px;font-weight:bold;letter-spacing:1px;text-indent:1px;color:#fff">04</div><div class="a" style="left:172.5px;width:50px;text-align:center;top:95.5px;font-size:9.6px;line-height:14px;font-weight:bold;color:#fff;transform:rotate(-38deg)">添加标题</div><div class="a" style="left:263.7px;width:50px;text-align:center;top:110px;font-size:9.6px;line-height:14px;font-weight:bold;color:#fff;transform:rotate(61deg)">添加标题</div><div class="a" style="left:244.7px;width:50px;text-align:center;top:187.6px;font-size:9.6px;line-height:14px;font-weight:bold;color:#fff;transform:rotate(-33deg)">添加标题</div><div class="a" style="left:166.7px;width:50px;text-align:center;top:171.6px;font-size:9.6px;line-height:14px;font-weight:bold;color:#fff;transform:rotate(53deg)">添加标题</div>
<div class="a" style="right:327px;text-align:right;top:74.2px;font-size:12px;line-height:16px;font-weight:bold;color:#196d07">点击此处添加标题</div><div class="a" style="right:327px;text-align:right;top:94.5px;font-size:8px;line-height:14px;color:#3a3a3a">标题数字等都可以通过点击和<br>重新输入进行更改</div><div class="a" style="left:334.7px;top:74.2px;font-size:12px;line-height:16px;font-weight:bold;color:#222">点击此处添加标题</div><div class="a" style="left:334.7px;top:94.5px;font-size:8px;line-height:14px;color:#3a3a3a">标题数字等都可以通过点击和<br>重新输入进行更改</div><div class="a" style="right:327px;text-align:right;top:178.0px;font-size:12px;line-height:16px;font-weight:bold;color:#196d07">点击此处添加标题</div><div class="a" style="right:327px;text-align:right;top:197.8px;font-size:8px;line-height:14px;color:#3a3a3a">标题数字等都可以通过点击和<br>重新输入进行更改</div><div class="a" style="left:334.7px;top:178.0px;font-size:12px;line-height:16px;font-weight:bold;color:#222">点击此处添加标题</div><div class="a" style="left:334.7px;top:197.8px;font-size:8px;line-height:14px;color:#3a3a3a">标题数字等都可以通过点击和<br>重新输入进行更改</div>
<div class="fl">实习趣乐学院 | University Name</div>
<div class="fr">www.aotgenius.com &nbsp;| <b>21</b></div>
</div>

</body></html>
